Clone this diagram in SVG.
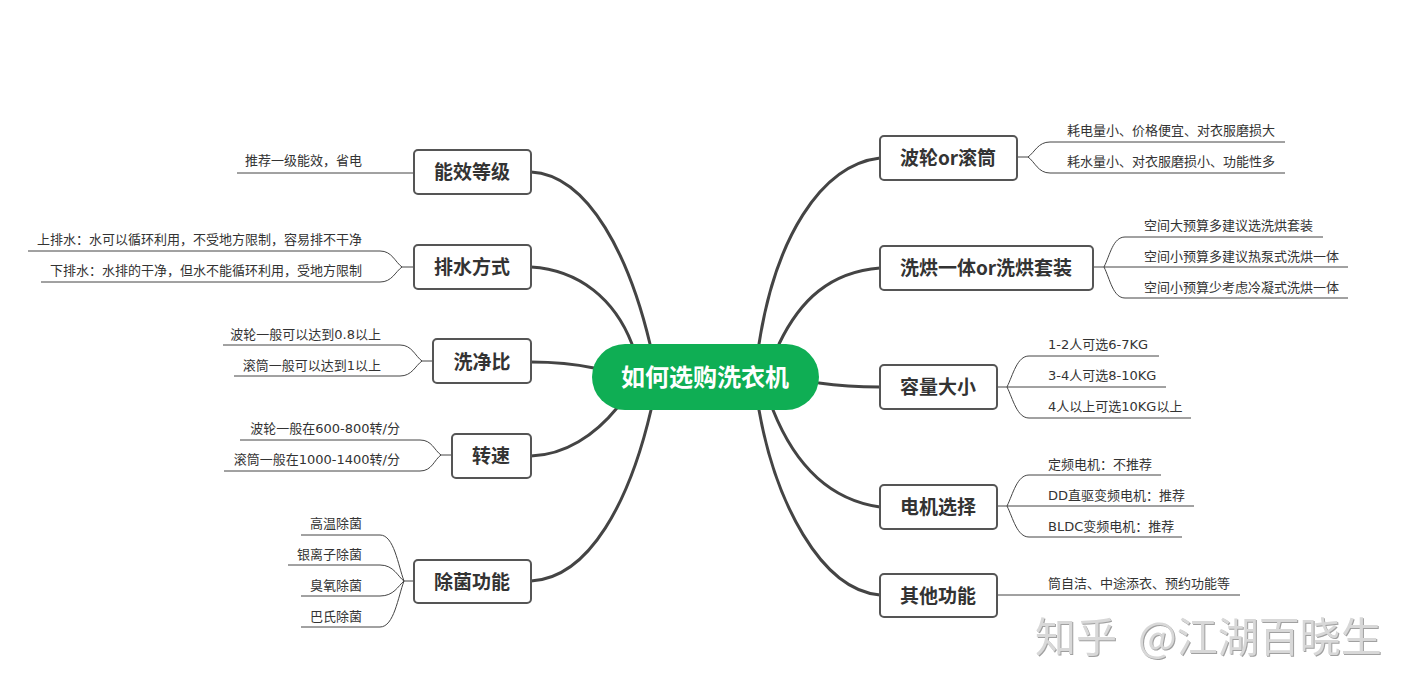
<svg xmlns="http://www.w3.org/2000/svg" width="1416" height="694" viewBox="0 0 1416 694">
<style>
text{font-family:"Noto Sans CJK SC","Noto Sans",sans-serif;fill:#333}
.b{fill:#fff;stroke:#555;stroke-width:2}
.n{font-size:19px;font-weight:700;text-anchor:middle}
.l{font-size:13px;font-family:"DejaVu Sans","Noto Sans CJK SC",sans-serif}
.e{text-anchor:end}
.c{fill:none;stroke:#444;stroke-width:3;stroke-linecap:round}
.s{fill:none;stroke:#444;stroke-width:1}
.w{font-size:41px;fill:#d8d8d8;filter:drop-shadow(1px 1px 0 #a0a0a0)}
</style>
<rect width="1416" height="694" fill="#fff"/>
<g id="connectors">
<path class="c" d="M759 344C775 240 820 165 880 158"/>
<path class="c" d="M779 344C800 300 830 272 880 268"/>
<path class="c" d="M819 383C840 386 855 387 880 387"/>
<path class="c" d="M773 410C795 465 830 500 880 507"/>
<path class="c" d="M759 410C775 500 820 590 880 595"/>
<path class="c" d="M531 172C590 175 630 260 650 344"/>
<path class="c" d="M531 267C580 270 615 300 632 344"/>
<path class="c" d="M531 362C560 362 575 364 594 368"/>
<path class="c" d="M531 456C565 455 595 435 617 408"/>
<path class="c" d="M531 581C590 578 630 500 651 410"/>
<path class="s" d="M237 173H414"/>
<path class="s" d="M28 251H380C392 251 395 262 402 267M41 282H380C392 282 395 272 402 267M402 267H414"/>
<path class="s" d="M223 345H400C412 345 415 356 422 361M234 376H400C412 376 415 366 422 361M422 361H433"/>
<path class="s" d="M240 440H420C432 440 434 450 441 455M224 471H420C432 471 434 460 441 455M441 455H452"/>
<path class="s" d="M301 535H380C394 535 398 565 404 581M288 565H380C394 565 398 577 404 581M301 596H380C394 596 398 586 404 581M301 627H380C394 627 398 597 404 581M404 581H414"/>
<path class="s" d="M1285 142H1050C1038 142 1035 152 1028 157M1285 173H1050C1038 173 1035 162 1028 157M1028 157H1017"/>
<path class="s" d="M1323 237H1125C1113 237 1110 255 1104 267M1348 267H1093M1348 298H1125C1113 298 1110 279 1104 267"/>
<path class="s" d="M1159 356H1029C1017 356 1013 375 1007 387M1166 387H997M1191 418H1029C1017 418 1013 399 1007 387"/>
<path class="s" d="M1161 475H1029C1017 475 1013 494 1007 506M1194 506H997M1182 537H1029C1017 537 1013 518 1007 506"/>
<path class="s" d="M997 595H1240"/>
</g>
<g id="root"><rect x="592" y="344" width="227" height="66" rx="33" fill="#0fae54"/><text x="705" y="386" text-anchor="middle" style="font-size:24px;font-weight:700;fill:#fff">如何选购洗衣机</text></g>
<g id="n-energy"><rect class="b" x="414" y="150" width="117" height="44" rx="4"/><text class="n" x="472" y="179">能效等级</text><text class="l e" x="362" y="165">推荐一级能效，省电</text></g>
<g id="n-drain"><rect class="b" x="414" y="245" width="117" height="44" rx="4"/><text class="n" x="472" y="274">排水方式</text><text class="l e" x="362" y="244">上排水：水可以循环利用，不受地方限制，容易排不干净</text><text class="l e" x="362" y="275">下排水：水排的干净，但水不能循环利用，受地方限制</text></g>
<g id="n-ratio"><rect class="b" x="433" y="339" width="98" height="44" rx="4"/><text class="n" x="482" y="369">洗净比</text><text class="l e" x="381" y="339">波轮一般可以达到0.8以上</text><text class="l e" x="381" y="370">滚筒一般可以达到1以上</text></g>
<g id="n-speed"><rect class="b" x="452" y="434" width="79" height="44" rx="4"/><text class="n" x="491" y="463">转速</text><text class="l e" x="400" y="433">波轮一般在600-800转/分</text><text class="l e" x="400" y="464">滚筒一般在1000-1400转/分</text></g>
<g id="n-germ"><rect class="b" x="414" y="560" width="117" height="43" rx="4"/><text class="n" x="472" y="589">除菌功能</text><text class="l e" x="362" y="528">高温除菌</text><text class="l e" x="362" y="559">银离子除菌</text><text class="l e" x="362" y="590">臭氧除菌</text><text class="l e" x="362" y="621">巴氏除菌</text></g>
<g id="n-type"><rect class="b" x="880" y="136" width="137" height="44" rx="4"/><text class="n" x="948" y="165">波轮or滚筒</text><text class="l" x="1067" y="135">耗电量小、价格便宜、对衣服磨损大</text><text class="l" x="1067" y="166">耗水量小、对衣服磨损小、功能性多</text></g>
<g id="n-combo"><rect class="b" x="880" y="246" width="213" height="44" rx="4"/><text class="n" x="986" y="275">洗烘一体or洗烘套装</text><text class="l" x="1144" y="230">空间大预算多建议选洗烘套装</text><text class="l" x="1144" y="261">空间小预算多建议热泵式洗烘一体</text><text class="l" x="1144" y="292">空间小预算少考虑冷凝式洗烘一体</text></g>
<g id="n-size"><rect class="b" x="880" y="365" width="117" height="44" rx="4"/><text class="n" x="938" y="394">容量大小</text><text class="l" x="1048" y="349">1-2人可选6-7KG</text><text class="l" x="1048" y="380">3-4人可选8-10KG</text><text class="l" x="1048" y="411">4人以上可选10KG以上</text></g>
<g id="n-motor"><rect class="b" x="880" y="485" width="117" height="44" rx="4"/><text class="n" x="938" y="514">电机选择</text><text class="l" x="1048" y="469">定频电机：不推荐</text><text class="l" x="1048" y="500">DD直驱变频电机：推荐</text><text class="l" x="1048" y="531">BLDC变频电机：推荐</text></g>
<g id="n-other"><rect class="b" x="880" y="574" width="117" height="43" rx="4"/><text class="n" x="938" y="603">其他功能</text><text class="l" x="1048" y="588">筒自洁、中途添衣、预约功能等</text></g>
<g id="watermark"><text class="w" x="1035" y="652">知乎</text><text class="w" x="1138" y="652">@江湖百晓生</text></g>
</svg>
